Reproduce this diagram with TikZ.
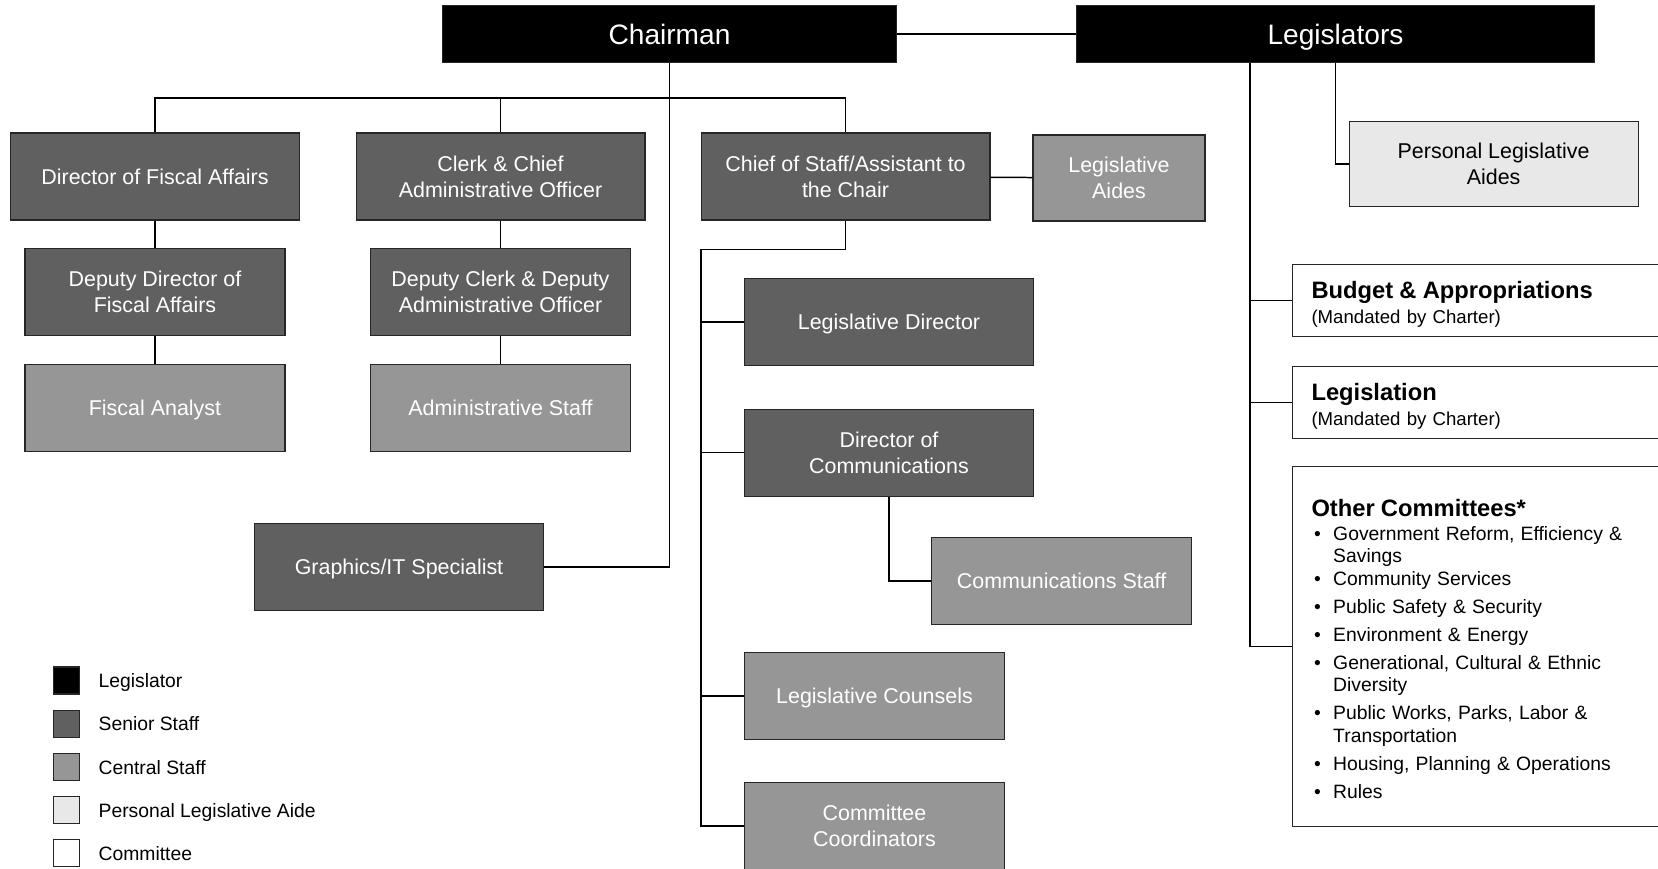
\documentclass[tikz,border=0pt]{standalone}
\usepackage{fontspec}
\setmainfont{Liberation Sans}
\usetikzlibrary{positioning}
\definecolor{senior}{HTML}{606060}
\definecolor{central}{HTML}{969696}
\definecolor{aide}{HTML}{E8E8E8}
\tikzset{
  plainbox/.style={draw=black!85, line width=0.6pt, inner sep=0pt, align=center,
    font=\fontsize{12.2}{15}\selectfont},
  box/.style={plainbox, text depth=0pt},
  legis/.style={box, fill=black, text=white, minimum height=1.14cm,
    font=\fontsize{16}{19}\selectfont},
  senior/.style={box, fill=senior, text=white},
  central/.style={box, fill=central, text=white},
  personal/.style={box, fill=aide},
  wide/.style={minimum width=5.78cm, minimum height=1.74cm},
  narrow/.style={minimum width=5.2cm, minimum height=1.74cm},
  cmte/.style={plainbox, fill=white, align=left, anchor=north west, inner xsep=0.38cm,
    text width=6.8cm, font=\fontsize{10.6}{14.1}\selectfont},
  link/.style={line width=0.85pt},
  keybox/.style={draw=black!85, line width=0.6pt, minimum width=0.53cm,
    minimum height=0.54cm, inner sep=0pt},
  keytext/.style={inner sep=0pt, text depth=0pt, font=\fontsize{11}{13}\selectfont}
}
\newcommand{\cmhead}[1]{{\fontsize{13.5}{14.1}\selectfont\bfseries\rule{0pt}{13.8pt}#1}}
\begin{document}
\begin{tikzpicture}[x=0.02cm, y=-0.02cm]
  \useasboundingbox (0,0) rectangle (1658,869);

  % top row
  \node[legis, minimum width=9.1cm] (chair) at (669.5,34) {Chairman};
  \node[legis, minimum width=10.38cm] (legs) at (1335.5,34) {Legislators};

  % staff under the chairman
  \node[senior, wide] (fiscal) at (155,176.5) {Director of Fiscal Affairs};
  \node[senior, wide] (clerk) at (500.5,176.5) {Clerk \& Chief\\Administrative Officer};
  \node[senior, wide] (chief) at (845.5,176.5) {Chief of Staff/Assistant to\\the Chair};
  \node[central, minimum width=3.44cm, minimum height=1.72cm] (aides) at (1119,178) {Legislative\\Aides};
  \node[senior, narrow] (depfiscal) at (155,291.8) {Deputy Director of\\Fiscal Affairs};
  \node[senior, narrow] (depclerk) at (500.5,291.8) {Deputy Clerk \& Deputy\\Administrative Officer};
  \node[central, narrow] (analyst) at (155,407.6) {Fiscal Analyst};
  \node[central, narrow] (adminstaff) at (500.5,407.6) {Administrative Staff};
  \node[senior, wide] (graphics) at (399,567) {Graphics/IT Specialist};

  % chief of staff's office
  \node[senior, wide] (legdir) at (889,322) {Legislative Director};
  \node[senior, wide] (commdir) at (889,452.6) {Director of\\Communications};
  \node[central, narrow] (commstaff) at (1061.6,581) {Communications Staff};
  \node[central, narrow] (counsels) at (874.5,696) {Legislative Counsels};
  \node[central, narrow] (coord) at (874.5,826) {Committee\\Coordinators};

  % legislators' side
  \node[personal, wide, minimum height=1.69cm] (pla) at (1493.6,164) {Personal Legislative\\Aides};
  \node[cmte, minimum height=1.44cm] (budget) at (1292,264)
    {\cmhead{Budget \& Appropriations}\\(Mandated by Charter)};
  \node[cmte, minimum height=1.44cm] (legisl) at (1292,366)
    {\cmhead{Legislation}\\(Mandated by Charter)};
  \node[cmte, minimum height=7.2cm] (other) at (1292,466)
    {\fontsize{11}{13}\selectfont
     \begin{tabular}{@{\hspace{1.5pt}}l@{\hspace{7pt}}l@{}}
       \multicolumn{2}{@{}l}{\rule{0pt}{16pt}\cmhead{Other Committees*}}\\[0.6pt]
       \textbullet & Government Reform, Efficiency \&\\
                   & Savings\\
       \textbullet & Community Services\\[2.8pt]
       \textbullet & Public Safety \& Security\\[2.8pt]
       \textbullet & Environment \& Energy\\[2.8pt]
       \textbullet & Generational, Cultural \& Ethnic\\
                   & Diversity\\[2.8pt]
       \textbullet & Public Works, Parks, Labor \&\\
                   & Transportation\\[2.8pt]
       \textbullet & Housing, Planning \& Operations\\[2.8pt]
       \textbullet & Rules
     \end{tabular}};

  % connectors
  \coordinate (bus) at (669.5,98);
  \coordinate (cbus) at (701,249.5);
  \coordinate (lbus) at (1250,62.5);
  \draw[link] (chair) -- (legs);
  \draw[link] (chair.south) |- (graphics.east);
  \draw[link] (fiscal.north) |- (bus) -| (chief.north);
  \draw[link] (clerk.north) -- (clerk.north |- bus);
  \draw[link] (fiscal) -- (depfiscal) -- (analyst);
  \draw[link] (clerk) -- (depclerk) -- (adminstaff);
  \draw[link] (chief) -- (aides);
  \draw[link] (chief.south) |- (cbus) |- (coord.west);
  \draw[link] (cbus |- legdir.west) -- (legdir.west);
  \draw[link] (cbus |- commdir.west) -- (commdir.west);
  \draw[link] (cbus |- counsels.west) -- (counsels.west);
  \draw[link] (commdir.south) |- (commstaff.west);
  \draw[link] (legs.south) |- (pla.west);
  \draw[link] (lbus) |- (other.west);
  \draw[link] (lbus |- budget.west) -- (budget.west);
  \draw[link] (lbus |- legisl.west) -- (legisl.west);

  % legend
  \node[keybox, fill=black] (keylegis) at (66.5,680.5) {};
  \node[keytext, right=0.36cm of keylegis] {Legislator};
  \node[keybox, fill=senior] (keysenior) at (66.5,723.8) {};
  \node[keytext, right=0.36cm of keysenior] {Senior Staff};
  \node[keybox, fill=central] (keycentral) at (66.5,767) {};
  \node[keytext, right=0.36cm of keycentral] {Central Staff};
  \node[keybox, fill=aide] (keyaide) at (66.5,810) {};
  \node[keytext, right=0.36cm of keyaide] {Personal Legislative Aide};
  \node[keybox, fill=white] (keycmte) at (66.5,853.3) {};
  \node[keytext, right=0.36cm of keycmte] {Committee};
\end{tikzpicture}
\end{document}
